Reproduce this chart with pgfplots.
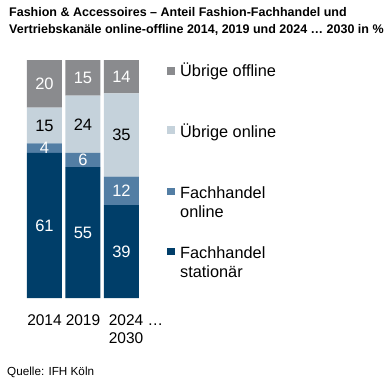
\documentclass[border=0pt]{standalone}
\usepackage{pgfplots}
\pgfplotsset{compat=1.18}
\usepackage{fontspec}
\setmainfont{Liberation Sans}
\definecolor{cGray}{HTML}{8A8B8E}
\definecolor{cLight}{HTML}{C5D2DB}
\definecolor{cMid}{HTML}{537EA4}
\definecolor{cNavy}{HTML}{003E69}
\begin{document}
\begin{tikzpicture}
\path[use as bounding box] (0,0) rectangle (389bp,-385bp);
% title
\node[anchor=base west, inner sep=0, font=\fontsize{12.5bp}{17bp}\selectfont\bfseries] at (9bp,-16.5bp) {Fashion \& Accessoires – Anteil Fashion-Fachhandel und};
\node[anchor=base west, inner sep=0, font=\fontsize{12.5bp}{17bp}\selectfont\bfseries] at (9bp,-33bp) {Vertriebskanäle online-offline 2014, 2019 und 2024 … 2030 in \%};
\begin{axis}[
  at={(25.25bp,-298bp)}, anchor=south west,
  scale only axis, width=115.5bp, height=238bp,
  xmin=-0.5, xmax=2.5, ymin=0, ymax=100,
  ybar stacked, bar width=35bp,
  axis line style={draw=none}, major tick length=0pt,
  ytick=\empty,
  xtick={0,1}, xticklabels={2014,2019},
  xticklabel style={font=\fontsize{15.5bp}{18bp}\selectfont, align=left, yshift=-13bp},
  extra x ticks={2}, extra x tick labels={{2024 …\\2030}},
  extra x tick style={xticklabel style={xshift=14.5bp}},
  clip=false,
]
\addplot[fill=cNavy, draw=none] coordinates {(0,61) (1,55) (2,39)};
\addplot[fill=cMid, draw=none] coordinates {(0,4) (1,6) (2,12)};
\addplot[fill=cLight, draw=none] coordinates {(0,15) (1,24) (2,35)};
\addplot[fill=cGray, draw=none] coordinates {(0,20) (1,15) (2,14)};
\end{axis}
\begin{axis}[
  at={(25.25bp,-298bp)}, anchor=south west,
  scale only axis, width=115.5bp, height=238bp,
  xmin=-0.5, xmax=2.5, ymin=0, ymax=100,
  hide axis, clip=false,
  nodes near coords, point meta=explicit symbolic,
  every node near coord/.append style={anchor=center, font=\fontsize{16.5bp}{18bp}\selectfont, inner sep=0pt},
]
\addplot[draw=none, mark=none, every node near coord/.append style={text=white}] coordinates {
  (0,30.5)[61] (1,27.5)[55] (2,19.5)[39]
  (0,63)[4] (1,58)[6] (2,45)[12]
  (0,90)[20] (1,92.5)[15] (2,93)[14]};
\addplot[draw=none, mark=none, every node near coord/.append style={text=black}] coordinates {
  (0,72.5)[15] (1,73)[24] (2,68.5)[35]};
\end{axis}
% legend
\fill[cGray] (167.3bp,-67.3bp) rectangle ++(7.5bp,-7.5bp);
\fill[cLight] (167.3bp,-126.3bp) rectangle ++(7.5bp,-7.5bp);
\fill[cMid] (167.3bp,-187.8bp) rectangle ++(7.5bp,-7.5bp);
\fill[cNavy] (167.3bp,-247.8bp) rectangle ++(7.5bp,-7.5bp);
\begin{scope}[every node/.style={anchor=base west, inner sep=0, font=\fontsize{16.3bp}{19bp}\selectfont}]
\node at (180bp,-76.5bp) {Übrige offline};
\node at (180bp,-137bp) {Übrige online};
\node at (180bp,-198bp) {Fachhandel};
\node at (180bp,-217bp) {online};
\node at (180bp,-258bp) {Fachhandel};
\node at (180bp,-277bp) {stationär};
\end{scope}
\node[anchor=base west, inner sep=0, font=\fontsize{11.7bp}{14bp}\selectfont] at (7bp,-375bp) {Quelle: IFH Köln};
\end{tikzpicture}
\end{document}
